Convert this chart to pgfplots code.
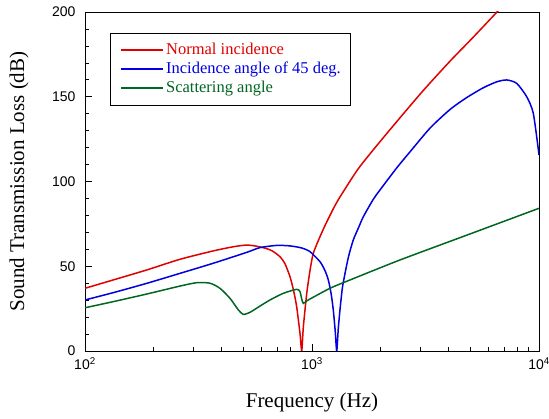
\documentclass[border=0pt]{standalone}
\usepackage{fontspec}
\setmainfont{Liberation Serif}
\newfontfamily\ticksans{Liberation Sans}
\usepackage{pgfplots}
\pgfplotsset{compat=1.18}
\definecolor{cred}{RGB}{224,0,0}
\definecolor{cblue}{RGB}{0,0,224}
\definecolor{cgreen}{RGB}{0,102,34}
\begin{document}
\begin{tikzpicture}
\begin{axis}[name=ax,
  scale only axis, width=454pt, height=339pt,
  xmode=log, xmin=100, xmax=10000, ymin=0, ymax=200,
  xtick={100,1000,10000}, xticklabels={10\textsuperscript{2},10\textsuperscript{3},10\textsuperscript{4}},
  ytick={0,50,100,150,200}, yticklabels={0,50,100,150,200},
  minor ytick={10,20,30,40,60,70,80,90,110,120,130,140,160,170,180,190},
  tick pos=left, tick align=inside,
  major tick length=7pt, minor tick length=4pt,
  tick style={black, line width=0.6pt},
  axis line style={black, line width=0.8pt},
  ticklabel style={font=\ticksans\fontsize{14}{16}\selectfont},
  xticklabel style={yshift=-3pt},
  yticklabel style={xshift=-6pt},
  xlabel={Frequency (Hz)}, ylabel={Sound Transmission Loss (dB)},
  label style={font=\fontsize{21}{24}\selectfont},
  xlabel style={at={(axis description cs:0.5,-0.153)}, anchor=center},
  ylabel style={at={(axis description cs:-0.145,0.5)}, anchor=center},
  legend style={at={(axis description cs:0.0551,0.9395)}, anchor=north west,
    draw=black, line width=1.3pt, inner xsep=10pt, inner ysep=9pt,
    font=\fontsize{16.5}{18}\selectfont, row sep=3pt,
    nodes={inner sep=0pt, text height=12pt, text depth=4pt},
    column sep=3pt},
  legend cell align=left,
  legend image code/.code={\draw[#1] plot coordinates {(0pt,0pt) (20.5pt,0pt) (41pt,0pt)};},
  every axis plot/.append style={smooth, tension=0.4},
]
\addplot[cred, line width=1.5pt] coordinates {
(100,37.0) (133,41.9) (187,47.8) (262,54.1) (366,59.0) (450,61.5) (516,62.5) (571,61.8)
(632,60.4) (673,58.8) (723,55.6) (760,51.5) (800,43.8) (830,35.5) (856,26.1) (885,10.6) (901,0)
(916,14.3) (948,34.0) (980,47.5) (1013,57.6) (1084,67.4) (1141,74.0) (1200,80.0) (1302,89.0)
(1579,106.5) (1857,118.5) (2368,135.5) (3083,153.5) (4055,171.0) (5121,185.0)
(6531,200.0) (7200,206)
};
\addlegendentry{\textcolor{cred}{Normal incidence}}
\addplot[cblue, line width=1.5pt] coordinates {
(100,30.1) (133,34.4) (187,39.9) (262,45.8) (366,51.7) (516,58.2) (590,61.0) (700,62.3)
(800,62.0) (900,60.8) (980,58.6) (1084,52.7) (1140,47.5) (1180,41.9) (1215,33.5) (1241,24.2) (1265,12) (1285,0)
(1305,13) (1328,24.2) (1360,37) (1398,45.8) (1450,56) (1520,65.5) (1600,72.5) (1683,79.2) (1862,89.5) (1993,95.0)
(2361,108.0) (2702,117.5) (3311,131.5) (4055,142.5) (4802,149.5) (5683,155.3) (6512,158.8)
(7208,159.9) (7977,157.9) (8829,150.0) (9438,140.2) (10000,115.6)
};
\addlegendentry{\textcolor{cblue}{Incidence angle of 45 deg.}}
\addplot[cgreen, line width=1.5pt] coordinates {
(100,25.5) (133,29.1) (187,33.6) (262,38.3) (311,40.3) (355,40.0) (393,37.0) (435,31.1)
(474,24.2) (498,21.6) (533,22.8) (590,26.5) (653,30.1) (747,34.0) (856,36.4) (885,35.0)
(900,31) (916,28.1) (963,30.1) (1200,37.0) (1470,41.9) (2441,53.7) (5000,69.2) (10000,84.2)
};
\addlegendentry{\textcolor{cgreen}{Scattering angle}}
\end{axis}
\pgfresetboundingbox
\path[use as bounding box] ([shift={(-85pt,-68pt)}]ax.south west) rectangle ([shift={(10pt,12pt)}]ax.north east);
\end{tikzpicture}
\end{document}
